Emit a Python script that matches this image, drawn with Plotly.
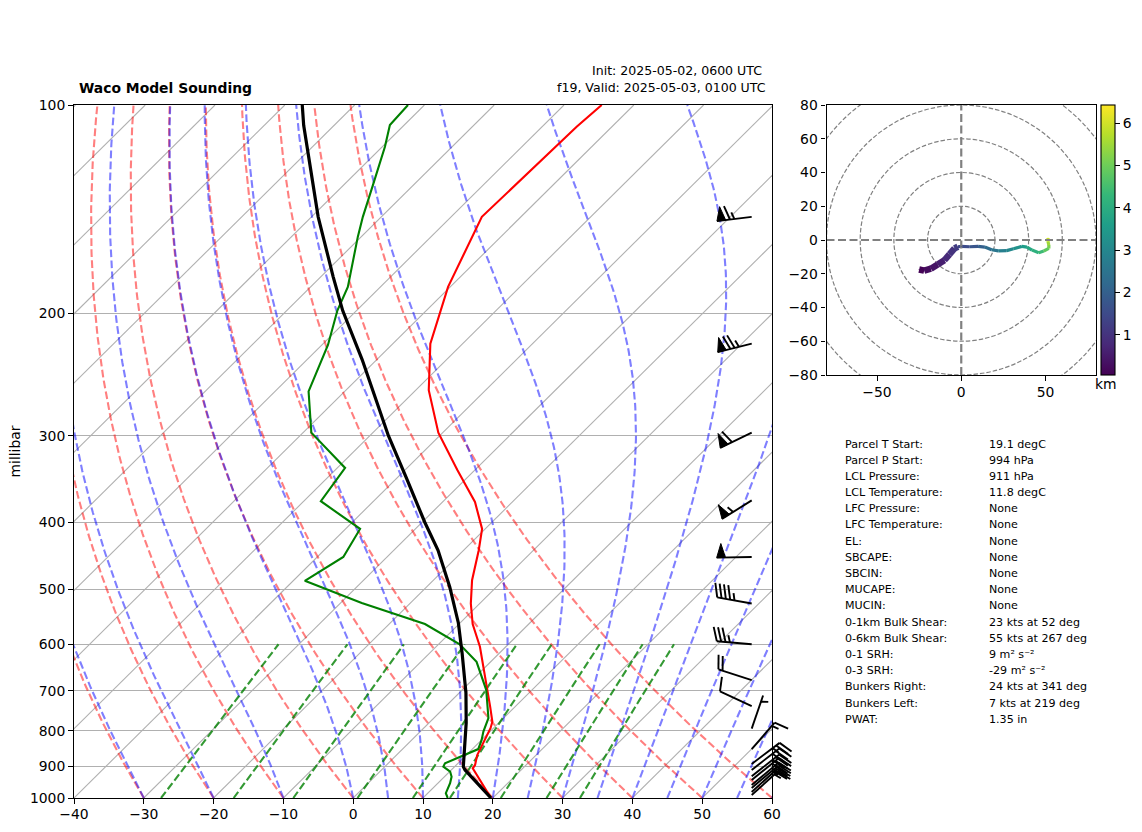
#!/usr/bin/env python3
"""Waco model sounding: skew-T, hodograph and parcel text block."""

import numpy as np
import plotly.graph_objects as go
from plotly.colors import sample_colorscale

W, H = 1142, 832
SKEW = 100.2  # deg C of shift per decade of pressure, gives the 45 degree isotherms

# sounding
temp_p = [1000, 911, 906, 896, 867, 793, 776, 738, 647, 605, 561, 524, 485, 439, 409,
          374, 336, 297, 258, 221, 183, 145, 107.5, 100]
temp_c = [19.74, 13.26, 12.83, 12.68, 11.56, 9.58, 8.90, 6.40, -0.34, -3.71, -8.04, -11.27,
          -14.46, -17.84, -20.44, -25.35, -32.56, -40.63, -48.13, -54.64, -60.31,
          -65.60, -65.04, -64.6]
dewp_p = [1000, 984, 952, 932, 916, 901, 891, 850, 825, 802, 767, 698, 636, 600, 561, 523,
          486, 449, 409, 373, 334, 297, 259, 222, 198, 183, 155, 145, 130.5, 114.9, 106.9, 100]
dewp_c = [13.54, 12.57, 11.74, 11.03, 10.07, 8.38, 8.13, 10.84, 10.02, 9.05, 7.83, 3.41,
          -2.02, -6.97, -14.87, -26.98, -38.33, -36.26, -37.92, -47.55, -48.88, -58.83,
          -65.18, -69.11, -72.74, -74.67, -80.47, -82.65, -85.79, -89.61, -92.04, -92.35]
parcel_p = [1000, 911, 901, 779, 705, 618, 559, 496, 439, 400, 345, 300, 233, 198, 177, 145, 107, 100]
parcel_c = [19.74, 11.97, 11.24, 5.32, 0.94, -5.34, -10.24, -16.68, -23.67, -29.62, -38.71,
            -47.35, -62.11, -71.98, -78.22, -89.05, -104.35, -107.5]

# wind barbs
barb_p = [145, 221, 297, 372, 449, 524, 600, 676, 737, 794, 850, 893, 911, 930, 942, 958, 967, 980, 990]
barb_spd = [65, 75, 60, 55, 50, 45, 35, 20, 10, 5, 15, 25, 30, 30, 30, 30, 25, 20, 15]
barb_dir = [263, 256, 244, 238, 269, 280, 275, 288, 295, 19, 41, 53, 52, 52, 51, 50, 50, 48, 48]

# hodograph
hodo_u = [-25, -22, -18, -14, -10, -7, -4, -2, 0, 5, 10, 14, 18, 22, 27, 31, 36, 39, 42, 46, 49, 52, 52, 51.5, 51.5]
hodo_v = [-17.5, -18.2, -17, -14.5, -12, -8.5, -5, -4, -3.8, -4, -3.8, -4.2, -5.8, -6.4, -6.3, -5.2,
          -3.8, -4.2, -6, -7.5, -6.5, -5, -3, -1, 1.2]
hodo_km = [0.1, 0.25, 0.4, 0.6, 0.8, 1.0, 1.2, 1.4, 1.55, 1.75, 2.0, 2.3, 2.55, 2.8, 3.05, 3.3, 3.6,
           3.85, 4.1, 4.4, 4.8, 5.1, 5.5, 5.85, 6.2]
hodo_rings = [20, 40, 60, 80, 100]

# background lines
isotherms = list(range(-140, 61, 10))
dry_t0 = list(range(-30, 61, 10))
moist_t0 = [-30, -20, -10, 0, 5, 10, 15, 20, 25, 30, 35, 40, 45, 50, 55, 60]
mixing_ratios = [0.0004, 0.001, 0.002, 0.004, 0.007, 0.01, 0.016, 0.024, 0.032]
p_ticks = [100, 200, 300, 400, 500, 600, 700, 800, 900, 1000]
t_ticks = [-40, -30, -20, -10, 0, 10, 20, 30, 40, 50, 60]

info_labels = ["Parcel T Start:", "Parcel P Start:", "LCL Pressure:", "LCL Temperature:", "LFC Pressure:",
               "LFC Temperature:", "EL:", "SBCAPE:", "SBCIN:", "MUCAPE:", "MUCIN:", "0-1km Bulk Shear:",
               "0-6km Bulk Shear:", "0-1 SRH:", "0-3 SRH:", "Bunkers Right:", "Bunkers Left:", "PWAT:"]
info_values = ["19.1 degC", "994 hPa", "911 hPa", "11.8 degC", "None", "None", "None", "None", "None",
               "None", "None", "23 kts at 52 deg", "55 kts at 267 deg", "9 m² s⁻²", "-29 m² s⁻²",
               "24 kts at 341 deg", "7 kts at 219 deg", "1.35 in"]
info_y = [444.3, 460.3, 476, 492.3, 508.3, 524.3, 541, 557, 573, 589.3, 605.7, 622.3, 638.3, 654, 670,
          686.3, 703, 719.3]

FONT = "DejaVu Sans"
AX_L, AX_R, AX_T, AX_B = 74, 772, 105, 798
HO_L, HO_R, HO_T, HO_B = 826.5, 1096, 105, 375


def skew_x(p, t):
    return np.asarray(t, float) + SKEW * np.log10(1000.0 / np.asarray(p, float))


def moist_profile(t0, levels):
    # moist adiabat, stepped upward from 1000 hPa
    def slope(lnp, tk):
        p = np.exp(lnp)
        es = 6.112 * np.exp(17.67 * (tk - 273.15) / (tk - 29.65))
        w = 0.622 * es / (p - es)
        return (287.05 * tk + 2.501e6 * w) / (1005.0 + 2.501e6 ** 2 * w * 0.622 / (287.05 * tk ** 2))

    out = [t0 + 273.15]
    lnp = np.log(levels)
    for a, b in zip(lnp[:-1], lnp[1:]):
        k1 = slope(a, out[-1])
        k2 = slope(b, out[-1] + (b - a) * k1)
        out.append(out[-1] + (b - a) * 0.5 * (k1 + k2))
    return np.array(out) - 273.15


def px(x):
    return x / W


def py(y):
    return 1 - y / H


fig = go.Figure()
levels = np.geomspace(1000, 100, 200)


def add_main(p, t, color, width, dash=None):
    fig.add_trace(go.Scatter(x=skew_x(p, t), y=p, mode="lines", showlegend=False, hoverinfo="skip",
                             line=dict(color=color, width=width, dash=dash), xaxis="x", yaxis="y"))


for t in isotherms:
    add_main([1000, 100], [t, t], "#b0b0b0", 1.1)

DASH = "7.7px,3.3px"
for t0 in dry_t0:
    add_main(levels, (t0 + 273.15) * (levels / 1000.0) ** 0.2857 - 273.15, "rgba(255,0,0,0.5)", 2.1, DASH)
for t0 in moist_t0:
    add_main(levels, moist_profile(t0, levels), "rgba(0,0,255,0.5)", 2.1, DASH)

mix_levels = np.linspace(1000, 600, 30)
for w in mixing_ratios:
    e = np.log(mix_levels * w / (0.622 + w) / 6.112)
    add_main(mix_levels, 243.5 * e / (17.67 - e), "rgba(0,128,0,0.8)", 2.1, DASH)

add_main(temp_p, temp_c, "#ff0000", 2.1)
add_main(dewp_p, dewp_c, "#008000", 2.1)
add_main(parcel_p, parcel_c, "#000000", 3.2)

# hodograph, one piece per colour step
for i in range(len(hodo_u) - 1):
    frac = (hodo_km[i] - 0.055) / (6.43 - 0.055)
    fig.add_trace(go.Scatter(x=hodo_u[i:i + 2], y=hodo_v[i:i + 2], mode="lines", showlegend=False,
                             hoverinfo="skip", xaxis="x2", yaxis="y2",
                             line=dict(color=sample_colorscale("Viridis", frac)[0],
                                       width=6.5 if hodo_km[i] < 1.3 else 3.2)))

for xs, ys in (([-80, 80], [0, 0]), ([0, 0], [-80, 80])):
    fig.add_trace(go.Scatter(x=xs, y=ys, mode="lines", showlegend=False, hoverinfo="skip", xaxis="x2", yaxis="y2",
                             line=dict(color="#808080", width=2.2, dash="8px,3.5px")))

fig.add_trace(go.Scatter(
    x=hodo_u, y=hodo_v, mode="markers", showlegend=False, hoverinfo="skip", xaxis="x2", yaxis="y2",
    marker=dict(size=1, color=hodo_km, colorscale="Viridis", cmin=0.055, cmax=6.43, showscale=True,
                colorbar=dict(x=px(1100.5), xanchor="left", xpad=0, y=py(240), yanchor="middle", ypad=0,
                              len=270, lenmode="pixels", thickness=13.5, thicknessmode="pixels",
                              tickmode="array", tickvals=[1, 2, 3, 4, 5, 6], ticks="outside", ticklen=4.9,
                              tickwidth=1.1, tickcolor="black", outlinecolor="black", outlinewidth=1.1,
                              tickfont=dict(family=FONT, size=13.9, color="black")))))

# barbs are drawn by hand in figure pixels so they can run past the right edge like the original
STAFF = 35.0
BARB_X = 751.7
FLAG_H, FLAG_W, SPACE = STAFF * 0.4, STAFF * 0.25, STAFF * 0.125
bx, by, fx, fy = [], [], [], []
for p, spd, wdir in zip(barb_p, barb_spd, barb_dir):
    base = np.array([BARB_X, AX_B - (AX_B - AX_T) * np.log10(1000.0 / p)])
    d = np.array([np.sin(np.radians(wdir)), -np.cos(np.radians(wdir))])
    n = np.array([-d[1], d[0]])
    end = base + d * STAFF
    bx += [base[0], end[0], None]
    by += [base[1], end[1], None]
    flags, rest = divmod(int(spd), 50)
    longs, halves = divmod(rest, 10)
    halves = halves // 5
    off = STAFF
    for _ in range(flags):
        a = base + d * off
        b = base + d * (off - FLAG_W)
        c = base + d * (off - FLAG_W / 2) + n * FLAG_H
        fx += [a[0], b[0], c[0], a[0], None]
        fy += [a[1], b[1], c[1], a[1], None]
        off -= FLAG_W + SPACE
    for _ in range(longs):
        a = base + d * off
        c = a + d * FLAG_W / 2 + n * FLAG_H
        bx += [a[0], c[0], None]
        by += [a[1], c[1], None]
        off -= SPACE
    if halves:
        if flags == 0 and longs == 0:
            off -= 1.5 * SPACE
        a = base + d * off
        c = a + d * FLAG_W / 4 + n * FLAG_H / 2
        bx += [a[0], c[0], None]
        by += [a[1], c[1], None]

fig.add_trace(go.Scatter(x=fx, y=fy, mode="lines", fill="toself", fillcolor="black", showlegend=False,
                         hoverinfo="skip", xaxis="x3", yaxis="y3", line=dict(color="black", width=1)))
fig.add_trace(go.Scatter(x=bx, y=by, mode="lines", showlegend=False, hoverinfo="skip", xaxis="x3", yaxis="y3",
                         line=dict(color="black", width=1.9)))

tick_font = dict(family=FONT, size=13.9, color="black")
axis_style = dict(showline=True, linecolor="black", linewidth=1.1, mirror=True, ticks="outside", ticklen=4.9,
                  tickwidth=1.1, tickcolor="black", tickfont=tick_font, zeroline=False)

fig.update_layout(
    width=W, height=H, margin=dict(l=0, r=0, t=0, b=0, autoexpand=False), showlegend=False,
    paper_bgcolor="white", plot_bgcolor="rgba(0,0,0,0)", font=dict(family=FONT, color="black"),
    xaxis=dict(domain=[px(AX_L), px(AX_R)], range=[-40, 60], tickmode="array", tickvals=t_ticks,
               showgrid=False, anchor="y", ticklabelstandoff=-2, **axis_style),
    yaxis=dict(domain=[py(AX_B), py(AX_T)], type="log", range=[3, 2], tickmode="array", tickvals=p_ticks,
               ticktext=[str(v) for v in p_ticks], showgrid=True, gridcolor="#b0b0b0", gridwidth=1.1, anchor="x",
               title=dict(text="millibar", font=tick_font, standoff=6), **axis_style),
    xaxis2=dict(domain=[px(HO_L), px(HO_R)], range=[-80, 80], tickmode="array", tickvals=[-50, 0, 50],
                showgrid=False, anchor="y2", ticklabelstandoff=-1, **axis_style),
    yaxis2=dict(domain=[py(HO_B), py(HO_T)], range=[-80, 80], tickmode="array", tickvals=list(range(-80, 81, 20)),
                showgrid=False, anchor="x2", **axis_style),
    xaxis3=dict(domain=[0, 1], range=[0, W], visible=False, anchor="y3"),
    yaxis3=dict(domain=[0, 1], range=[H, 0], visible=False, anchor="x3"),
)

for r in hodo_rings:
    fig.add_shape(type="circle", xref="x2", yref="y2", x0=-r, x1=r, y0=-r, y1=r, layer="below",
                  line=dict(color="#808080", width=1.2, dash="4.5px,2px"))


def put_text(x, y, text, size, anchor="left", **kw):
    fig.add_annotation(xref="paper", yref="paper", x=px(x), y=py(y), text=text, showarrow=False, xanchor=anchor,
                       yanchor="middle", xshift=0, yshift=0, borderpad=0, font=dict(family=FONT, size=size, color="black"),
                       **kw)


put_text(78, 88, "<b>Waco Model Sounding</b>", 13.9)
put_text(762.5, 70, "Init: 2025-05-02, 0600 UTC", 12.55, anchor="right")
put_text(766.5, 88, "f19, Valid: 2025-05-03, 0100 UTC", 12.55, anchor="right")
put_text(1106, 384, "km", 13.9, anchor="center")
for y, label, value in zip(info_y, info_labels, info_values):
    put_text(844, y, label, 11.1)
    put_text(988, y, value, 11.1)

fig.write_html("out.html", config=dict(displayModeBar=False),
               post_script="document.body.style.margin='0';")
